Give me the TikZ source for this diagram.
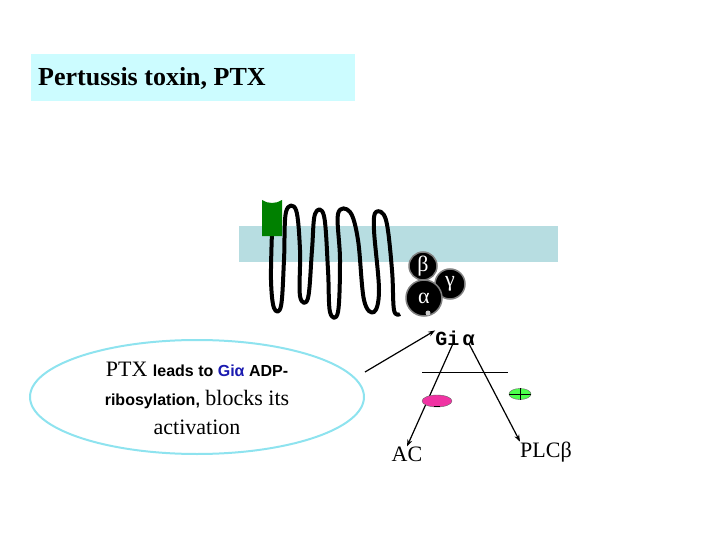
\documentclass[tikz,border=0pt]{standalone}
\usepackage{fontspec}
\setmainfont{Liberation Serif}
\newfontfamily\arialf{Liberation Sans}
\newfontfamily\monof{Liberation Mono}
\usetikzlibrary{arrows.meta,positioning,shapes.geometric}
\definecolor{titlebg}{HTML}{CCFCFF}
\definecolor{membr}{HTML}{B7DDE1}
\definecolor{ringc}{HTML}{8EE3EF}
\definecolor{giblue}{HTML}{1A1AB0}
\begin{document}
\begin{tikzpicture}[x=1pt,y=-1pt]
	\tikzstyle{every node}=[inner sep=0pt]
	\tikzstyle{sub}=[circle,fill=black,draw=gray,line width=1.5pt,text=white,font=\fontsize{22}{22}\selectfont]
	\tikzstyle{link}=[-{Stealth[length=7pt,width=5pt]},line width=1.2pt]
	\tikzstyle{lbl}=[font=\fontsize{22}{22}\selectfont]
	
	\useasboundingbox (0,0) rectangle (720,540);
	
	%% title and membrane
	\fill [titlebg] (31,54) rectangle (355,101);
	\node [font=\bfseries\fontsize{26}{26}\selectfont,anchor=west] (title) at (38,78) {Pertussis toxin, PTX};
	\fill [membr] (239,226) rectangle (558,262);
	
	%% receptor
	\draw [line width=4pt,line join=round] plot [smooth,tension=0.6] coordinates {(272,232) (271,280) (274,308) (281,306) (284,260)
		(286,212) (296,210) (300,250) (300,296) (308,298) (312,250) (315,214) (324,216) (328,270) (330,312) (338,312)
		(340,260) (338,214) (350,212) (358,240) (364,300) (374,312) (379,290) (374,230) (376,212) (386,220) (392,270) (394,310) (400,314)};
	\fill [green!50!black] (262,200) -- (262,236) -- (282,236) -- (282,200) .. controls (276,204) and (268,204) .. (262,200);
	
	%% G protein
	\node [sub,minimum size=28pt] (beta) at (423,266) {β};
	\node [sub,minimum size=30pt] (gamma) at (450,284) {γ};
	\node [sub,minimum size=36pt] (alpha) at (424,298) {α};
	\fill [gray!40] (428,313) circle (2.5pt);
	\node [font=\monof\bfseries\fontsize{20}{20}\selectfont] (gi) at (455,338) {Gi\,α};
	
	%% PTX ellipse
	\draw [ringc,line width=2pt,fill=white] (197,397) ellipse (167pt and 57pt);
	\node [align=center,font=\fontsize{22}{29}\selectfont] (ptx) at (197,398)
		{PTX {\arialf\bfseries\fontsize{16}{16}\selectfont leads to \textcolor{giblue}{Giα} ADP-}\\
		{\arialf\bfseries\fontsize{16}{16}\selectfont ribosylation,} blocks its\\activation};
	\coordinate (ptxend) at (365,372);
	\draw [link] (ptxend) -- (gi.north west);
	
	%% effectors
	\node [lbl] (ac) at (407,454) {AC};
	\node [lbl] (plc) at (546,452) {PLCβ};
	\draw [line width=1pt] (422,372) -- (508,372);
	\draw [link] (gi.south) ++(-2,-2) coordinate (gia) (gia) -- (ac.north);
	\draw [link] (gi.south east) ++(-6,-2) coordinate (gib) (gib) -- (plc.north west);
	\node [ellipse,fill=magenta!80,draw=black!60,minimum width=30pt,minimum height=12pt] (minus) at (437,401) {};
	\node [ellipse,fill=green!70,draw=black!60,minimum width=22pt,minimum height=11pt] (plus) at (520,394) {};
	\draw (minus.south) ++(-3,-1) -- ++(6,0);
	\draw (plus.north) -- (plus.south) (plus.west) -- (plus.east);
\end{tikzpicture}
\end{document}
